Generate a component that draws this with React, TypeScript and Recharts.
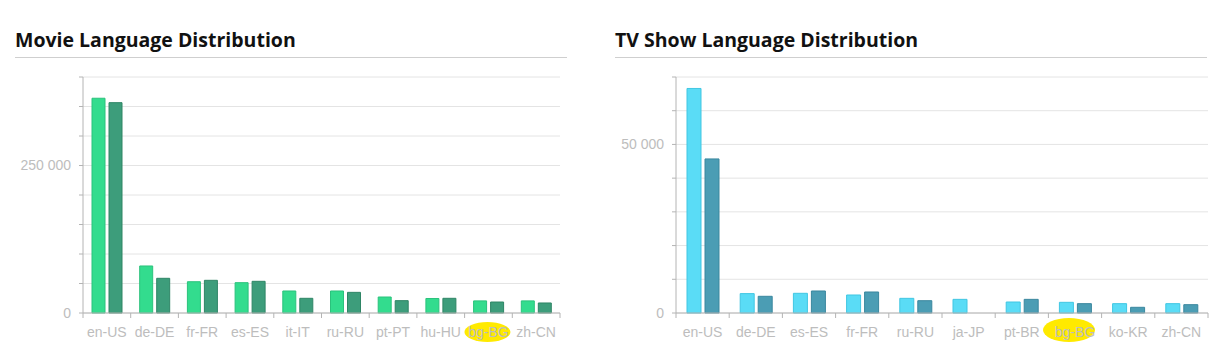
import React from 'react';
import { BarChart, Bar, XAxis, YAxis, CartesianGrid } from 'recharts';

const movieLanguages = ['en-US', 'de-DE', 'fr-FR', 'es-ES', 'it-IT', 'ru-RU', 'pt-PT', 'hu-HU', 'bg-BG', 'zh-CN'];
const movieSeriesA = [364000, 79700, 53000, 51400, 37300, 37300, 27100, 24600, 20500, 20500];
const movieSeriesB = [356500, 58800, 55400, 53700, 24900, 35000, 20900, 24900, 18600, 17000];
const movieYTicks = [0, 50000, 100000, 150000, 200000, 250000, 300000, 350000, 400000];
const movieYLabels = [0, 250000];

const tvLanguages = ['en-US', 'de-DE', 'es-ES', 'fr-FR', 'ru-RU', 'ja-JP', 'pt-BR', 'bg-BG', 'ko-KR', 'zh-CN'];
const tvSeriesA = [66600, 5750, 5840, 5340, 4350, 4050, 3260, 3170, 2770, 2770];
const tvSeriesB = [45700, 4950, 6530, 6230, 3650, null, 4050, 2770, 1690, 2470];
const tvYTicks = [0, 10000, 20000, 30000, 40000, 50000, 60000, 70000];
const tvYLabels = [0, 50000];

const highlighted = 'bg-BG';

const TICK_FONT = '"Liberation Sans", Arial, sans-serif';
const LABEL_COLOR = '#bdbdbd';
const AXIS_COLOR = '#b4b4b4';
const GRID_COLOR = '#e4e4e4';

const fmt = (v: number) => String(v).replace(/\B(?=(\d{3})+(?!\d))/g, ' ');

type PanelProps = {
  left: number;
  width: number;
  title: string;
  dividerWidth: number;
  categories: string[];
  a: (number | null)[];
  b: (number | null)[];
  yTicks: number[];
  yLabels: number[];
  yAxisWidth: number;
  marginRight: number;
  barSize: number;
  colors: { aFill: string; aStroke: string; bFill: string; bStroke: string };
  hl: { dx: number; dy: number; rx: number; ry: number };
};

function Panel(p: PanelProps) {
  const data = p.categories.map((c, i) => ({ lang: c, a: p.a[i], b: p.b[i] }));
  const chartHeight = 297;
  const margin = { top: 17, right: p.marginRight, bottom: 14, left: 0 };
  const plotWidth = p.width - p.yAxisWidth - p.marginRight;
  const bw = plotWidth / p.categories.length;
  const tickSize = 5;
  const tickMargin = 9;

  const renderXTick = (props: any) => {
    const { x, y, payload, index } = props;
    const axisY = y - tickSize - tickMargin;
    const isHl = payload.value === highlighted;
    return (
      <g>
        <line x1={x - bw / 2} x2={x - bw / 2} y1={axisY} y2={axisY + 5} stroke={AXIS_COLOR} />
        {index === p.categories.length - 1 && (
          <line x1={x + bw / 2} x2={x + bw / 2} y1={axisY} y2={axisY + 5} stroke={AXIS_COLOR} />
        )}
        {isHl && <ellipse cx={x + p.hl.dx} cy={y + p.hl.dy} rx={p.hl.rx} ry={p.hl.ry} fill="#ffea00" />}
        <text x={x} y={y} dy="0.71em" textAnchor="middle" fill={LABEL_COLOR} fontSize={14} fontFamily={TICK_FONT}>
          {payload.value}
        </text>
      </g>
    );
  };

  const renderYTick = (props: any) => {
    const { x, y, payload } = props;
    if (!p.yLabels.includes(payload.value)) return <g />;
    return (
      <text x={x} y={y} dy="0.355em" textAnchor="end" fill={LABEL_COLOR} fontSize={14} fontFamily={TICK_FONT}>
        {fmt(payload.value)}
      </text>
    );
  };

  return (
    <div style={{ position: 'absolute', left: p.left, top: 0, width: p.width, height: 357 }}>
      <div
        style={{
          position: 'absolute',
          left: 15,
          top: 29.5,
          fontFamily: '"Open Sans", sans-serif',
          fontWeight: 700,
          fontSize: 19.5,
          lineHeight: '20px',
          color: '#111',
          whiteSpace: 'nowrap',
        }}
      >
        {p.title}
      </div>
      <div style={{ position: 'absolute', left: 15, top: 57, width: p.dividerWidth, height: 0, borderTop: '1px solid #cfcfcf' }} />
      <div style={{ position: 'absolute', left: 0, top: 60 }}>
        <BarChart width={p.width} height={chartHeight} data={data} margin={margin} barSize={p.barSize} barGap={4}>
          <CartesianGrid vertical={false} stroke={GRID_COLOR} />
          <XAxis
            dataKey="lang"
            interval={0}
            height={30}
            tickLine={false}
            tickSize={tickSize}
            tickMargin={tickMargin}
            axisLine={{ stroke: AXIS_COLOR }}
            tick={renderXTick}
          />
          <YAxis
            type="number"
            width={p.yAxisWidth}
            domain={[p.yTicks[0], p.yTicks[p.yTicks.length - 1]]}
            ticks={p.yTicks}
            interval={0}
            tickSize={4}
            tickMargin={8}
            tickLine={{ stroke: AXIS_COLOR }}
            axisLine={{ stroke: AXIS_COLOR }}
            tick={renderYTick}
          />
          <Bar dataKey="a" fill={p.colors.aFill} stroke={p.colors.aStroke} isAnimationActive={false} />
          <Bar dataKey="b" fill={p.colors.bFill} stroke={p.colors.bStroke} isAnimationActive={false} />
        </BarChart>
      </div>
    </div>
  );
}

export default function App() {
  return (
    <div style={{ position: 'absolute', left: 0, top: 0, width: 1221, height: 357, background: '#fff' }}>
      <Panel
        left={0}
        width={580}
        title="Movie Language Distribution"
        dividerWidth={552}
        categories={movieLanguages}
        a={movieSeriesA}
        b={movieSeriesB}
        yTicks={movieYTicks}
        yLabels={movieYLabels}
        yAxisWidth={83}
        marginRight={20}
        barSize={13}
        colors={{ aFill: '#33dc8e', aStroke: '#2bc27c', bFill: '#3d9d7b', bStroke: '#2e8565' }}
        hl={{ dx: -1, dy: 5, rx: 23, ry: 10 }}
      />
      <Panel
        left={600}
        width={621}
        title="TV Show Language Distribution"
        dividerWidth={592}
        categories={tvLanguages}
        a={tvSeriesA}
        b={tvSeriesB}
        yTicks={tvYTicks}
        yLabels={tvYLabels}
        yAxisWidth={76}
        marginRight={13}
        barSize={14}
        colors={{ aFill: '#5adcf6', aStroke: '#40c6e2', bFill: '#4b9db4', bStroke: '#3a879e' }}
        hl={{ dx: -6, dy: 3, rx: 26, ry: 12 }}
      />
    </div>
  );
}
